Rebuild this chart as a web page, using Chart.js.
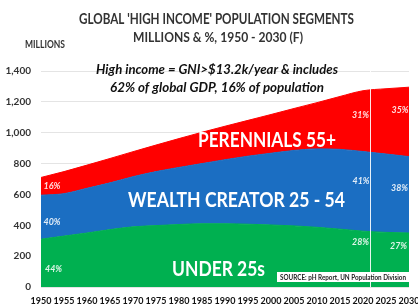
<!DOCTYPE html>
<html>
<head>
<meta charset="utf-8">
<script src="https://cdn.jsdelivr.net/npm/chart.js@4"></script>
<style>
  html, body { margin: 0; padding: 0; background: #fff; }
  canvas { display: block; }
</style>
</head>
<body>
<canvas id="chart" width="418" height="308"></canvas>
<script>
// Population in millions
const years = [1950, 1955, 1960, 1965, 1970, 1975, 1980, 1985, 1990, 1995, 2000, 2005, 2010, 2015, 2020, 2025, 2030];
const under25 = [310, 330, 350, 372, 390, 398, 405, 410, 410, 407, 402, 396, 387, 375, 362, 354, 350];
const wealthCreators = [285, 275, 290, 303, 325, 350, 370, 390, 415, 441, 465, 489, 508, 517, 516, 508, 495];
const perennials = [115, 143, 150, 158, 162, 172, 187, 203, 217, 232, 251, 272, 300, 343, 394, 423, 450];
const yMax = 1400;
const yStep = 200;
const forecastYear = 2021.5;

// Percent labels shown on the areas
const pctLabels = [
    {text: '16%', x: 52, y: 189},
    {text: '40%', x: 52, y: 224.5},
    {text: '44%', x: 53.5, y: 272},
    {text: '31%', x: 360.5, y: 117.5},
    {text: '35%', x: 400, y: 112.5},
    {text: '41%', x: 361, y: 183.5},
    {text: '38%', x: 399.5, y: 191},
    {text: '28%', x: 360.5, y: 245},
    {text: '27%', x: 398.5, y: 249}
];

const FONT = 'Lato, "Open Sans", sans-serif';
Chart.defaults.font.family = FONT;

const points = arr => years.map((yr, i) => ({x: yr, y: arr[i]}));

// draws text squeezed/stretched to a given width (Calibri-ish look)
function fitText(ctx, text, cx, baseY, width, font, color) {
    ctx.save();
    ctx.font = font;
    const s = width / ctx.measureText(text).width;
    ctx.translate(cx, baseY);
    ctx.scale(s, 1);
    ctx.fillStyle = color;
    ctx.textAlign = 'center';
    ctx.textBaseline = 'alphabetic';
    ctx.fillText(text, 0, 0);
    ctx.restore();
}

const overlay = {
    id: 'overlay',
    afterDatasetsDraw(chart) {
        const ctx = chart.ctx;
        const area = chart.chartArea;
        const xs = chart.scales.x;

        // forecast divider
        const fx = Math.round(xs.getPixelForValue(forecastYear)) + 0.5;
        ctx.save();
        ctx.strokeStyle = 'rgba(255,255,255,0.9)';
        ctx.lineWidth = 1;
        ctx.beginPath();
        ctx.moveTo(fx, area.top);
        ctx.lineTo(fx, area.bottom);
        ctx.stroke();
        ctx.restore();

        // segment names
        fitText(ctx, 'PERENNIALS 55+', 267, 147, 138, 'bold 20px ' + FONT, '#fff');
        fitText(ctx, 'WEALTH CREATOR 25 - 54', 236.5, 207, 217, 'bold 20px ' + FONT, '#fff');
        fitText(ctx, 'UNDER 25s', 218.5, 276, 93, 'bold 20px ' + FONT, '#fff');

        pctLabels.forEach(p => {
            fitText(ctx, p.text, p.x, p.y, 17, 'italic bold 10px ' + FONT, 'rgba(255,255,255,0.88)');
        });

        // source box
        ctx.fillStyle = '#fff';
        ctx.fillRect(277, 272, 132, 10);
        fitText(ctx, 'SOURCE: pH Report, UN Population Division', 343, 279.5, 126, 'bold 7px ' + FONT, '#222');
    },
    afterDraw(chart) {
        const ctx = chart.ctx;
        fitText(ctx, "GLOBAL 'HIGH INCOME' POPULATION SEGMENTS", 216.5, 24, 275, 'bold 15px ' + FONT, '#333');
        fitText(ctx, 'MILLIONS & %, 1950 - 2030 (F)', 218, 41.7, 170, 'bold 13px ' + FONT, '#333');
        fitText(ctx, 'MILLIONS', 45, 48, 40, 'bold 11px ' + FONT, '#333');
        fitText(ctx, 'High income = GNI>$13.2k/year & includes', 217, 74, 242, 'italic bold 14px ' + FONT, '#111');
        fitText(ctx, '62% of global GDP, 16% of population', 217, 92, 214, 'italic bold 14px ' + FONT, '#111');
    }
};

const areaSet = (label, data, color, fill) => ({
    label,
    data: points(data),
    backgroundColor: color,
    borderColor: color,
    borderWidth: 1,
    pointRadius: 0,
    fill,
    cubicInterpolationMode: 'monotone'
});

new Chart(document.getElementById('chart'), {
    type: 'line',
    data: {
        datasets: [
            areaSet('Under 25s', under25, '#00B050', 'origin'),
            areaSet('Wealth Creator 25 - 54', wealthCreators, '#1B6EC2', '-1'),
            areaSet('Perennials 55+', perennials, '#FF0000', '-1')
        ]
    },
    options: {
        responsive: false,
        devicePixelRatio: 1,
        animation: false,
        layout: {padding: {top: 71, right: 9, left: 0, bottom: 0}},
        plugins: {legend: {display: false}, tooltip: {enabled: false}},
        scales: {
            x: {
                type: 'linear',
                min: 1950,
                max: 2030,
                grid: {display: false},
                border: {display: false},
                ticks: {
                    stepSize: 5,
                    autoSkip: false,
                    maxRotation: 0,
                    padding: 1,
                    color: '#111',
                    font: {size: 9, weight: 'bold'},
                    callback: v => String(v)
                },
                afterFit: s => { s.height = 21; s.paddingLeft = 0; s.paddingRight = 0; }
            },
            y: {
                stacked: true,
                min: 0,
                max: yMax,
                grid: {color: '#e4e4e4', drawTicks: false},
                border: {display: false},
                ticks: {
                    stepSize: yStep,
                    padding: 10,
                    color: '#333',
                    font: {size: 10, weight: 'bold'},
                    callback: v => v.toLocaleString('en-US')
                },
                afterFit: s => { s.width = 41; s.paddingTop = 0; s.paddingBottom = 0; }
            }
        }
    },
    plugins: [overlay]
});
</script>
</body>
</html>
